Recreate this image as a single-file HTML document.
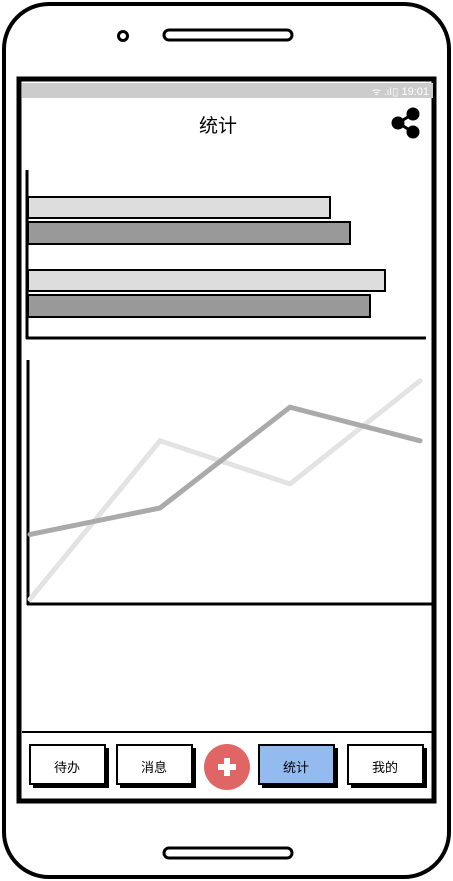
<!DOCTYPE html>
<html><head><meta charset="utf-8"><style>
html,body{margin:0;padding:0;background:#fff;width:453px;height:881px;overflow:hidden}
svg{display:block}
text{font-family:"Liberation Sans","Noto Sans CJK SC",sans-serif}
</style></head><body>
<svg width="453" height="881" viewBox="0 0 453 881">
  <rect x="4" y="4" width="445" height="873" rx="45" fill="#fff" stroke="#000" stroke-width="4"/>
  <circle cx="123" cy="36" r="4.5" fill="none" stroke="#000" stroke-width="3"/>
  <rect x="164" y="30" width="128" height="10" rx="5" fill="none" stroke="#000" stroke-width="3"/>
  <rect x="164" y="848" width="128" height="10" rx="5" fill="none" stroke="#000" stroke-width="3"/>
  <rect x="19" y="79" width="415" height="722" fill="#fff" stroke="#000" stroke-width="5"/>
  <rect x="22" y="83" width="411" height="15" fill="#cccccc"/>
  <text x="429" y="95" font-size="11" fill="#fff" text-anchor="end">▯ 19:01</text>
  <text x="372" y="95" font-size="10" fill="#fff">ᯤ .ıl</text>
  <text x="218" y="132" font-size="19" text-anchor="middle" fill="#000">统计</text>
  <g stroke="#000" stroke-width="3">
    <line x1="398" y1="123" x2="413" y2="114"/><line x1="398" y1="123" x2="413" y2="132"/>
    <circle cx="398" cy="123" r="5" fill="#000"/><circle cx="413" cy="114" r="5" fill="#000"/><circle cx="413" cy="132" r="5" fill="#000"/>
  </g>
  <g id="bars"></g>
  <g id="lines"></g>
  <line x1="22" y1="732" x2="433" y2="732" stroke="#000" stroke-width="2"/>
  <g>
    <rect x="33" y="748" width="76" height="40" fill="#000"/><rect x="30" y="745" width="75" height="39" fill="#fff" stroke="#000" stroke-width="2"/>
    <text x="67" y="772" font-size="13" text-anchor="middle">待办</text></g>
  <g>
    <rect x="120" y="748" width="76" height="40" fill="#000"/><rect x="117" y="745" width="75" height="39" fill="#fff" stroke="#000" stroke-width="2"/>
    <text x="154" y="772" font-size="13" text-anchor="middle">消息</text></g>
  <g>
    <circle cx="227" cy="767" r="23" fill="#e06666"/>
    <rect x="218" y="764" width="18" height="6" fill="#fff"/><rect x="224" y="758" width="6" height="18" fill="#fff"/></g>
  <g>
    <rect x="262" y="748" width="76" height="40" fill="#000"/><rect x="259" y="745" width="75" height="39" fill="#93bbf0" stroke="#000" stroke-width="2"/>
    <text x="296" y="772" font-size="13" text-anchor="middle">统计</text></g>
  <g>
    <rect x="351" y="748" width="76" height="40" fill="#000"/><rect x="348" y="745" width="75" height="39" fill="#fff" stroke="#000" stroke-width="2"/>
    <text x="385" y="772" font-size="13" text-anchor="middle">我的</text></g>
</svg>
<script>
const barCategories = ["A", "B"];
const barSeries1 = [302, 357];
const barSeries2 = [322, 342];
const lineCategories = ["1", "2", "3", "4"];
const lineSeriesLight = [2, 68, 50, 93];
const lineSeriesDark = [29, 40, 82, 68];

const NS = "http://www.w3.org/2000/svg";
function mk(tag, attrs, parent){const e=document.createElementNS(NS,tag);for(const k in attrs)e.setAttribute(k,attrs[k]);parent.appendChild(e);return e;}

// bar chart
const bg = document.getElementById("bars");
const bx = v => 28 + v;            // value -> x
const by = i => 197 + i * 73;      // category -> group top
const ax1 = mk("line",{x1:27,y1:170,x2:27,y2:339,stroke:"#000","stroke-width":3},bg);


const ax2 = mk("line",{x1:26,y1:338,x2:426,y2:338,stroke:"#000","stroke-width":3},bg);


barCategories.forEach((c,i)=>{
  const r1 = mk("rect",{x:28,y:by(i),width:bx(barSeries1[i])-28,height:21,fill:"#dddddd",stroke:"#000","stroke-width":2},bg);
  
  
  const r2 = mk("rect",{x:28,y:by(i)+25,width:bx(barSeries2[i])-28,height:22,fill:"#999999",stroke:"#000","stroke-width":2},bg);
  
  
});

// line chart
const lg = document.getElementById("lines");
const lx = i => 30 + i * 130;
const ly = v => 604 - v * 2.4;
const la1 = mk("line",{x1:28,y1:360,x2:28,y2:605,stroke:"#000","stroke-width":3},lg);


const la2 = mk("line",{x1:27,y1:604,x2:432,y2:604,stroke:"#000","stroke-width":3},lg);


const p1 = mk("polyline",{points:lineSeriesLight.map((v,i)=>lx(i)+","+ly(v)).join(" "),fill:"none",stroke:"#e3e3e3","stroke-width":5,"stroke-linecap":"round"},lg);


const p2 = mk("polyline",{points:lineSeriesDark.map((v,i)=>lx(i)+","+ly(v)).join(" "),fill:"none",stroke:"#aaaaaa","stroke-width":5,"stroke-linecap":"round"},lg);


</script>
</body></html>
